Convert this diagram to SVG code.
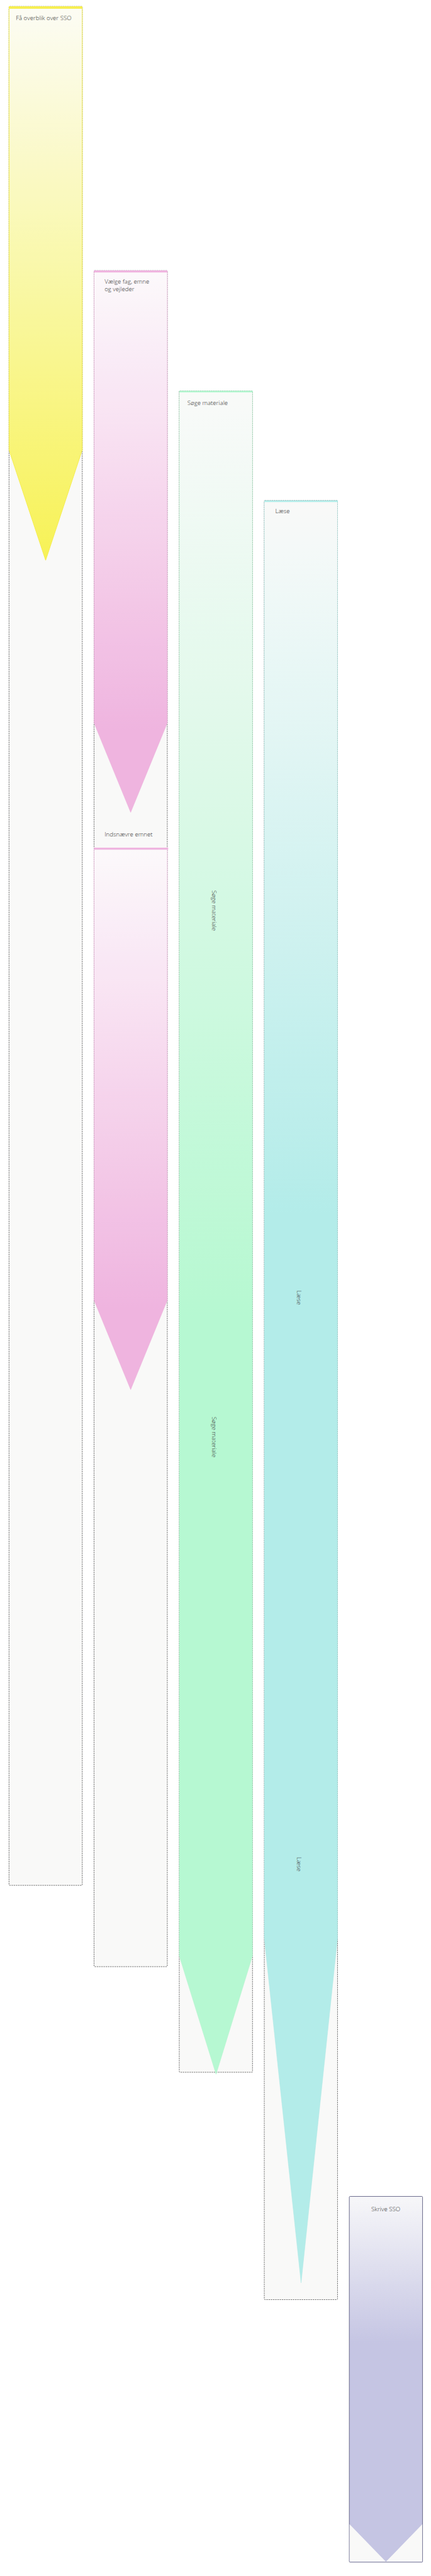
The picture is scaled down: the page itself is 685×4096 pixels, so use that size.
<svg xmlns="http://www.w3.org/2000/svg" width="685" height="4096" viewBox="0 0 685 4096">
<style>
.lane{fill:#f9f9f8;stroke:#3a3a3a;stroke-width:1.2;stroke-dasharray:4 2}
.lbl{font-family:"Open Sans","Liberation Sans",sans-serif;font-weight:300;font-size:16.5px;fill:#333}
</style>
<defs>
<linearGradient id="gy" x1="0" y1="0" x2="0" y2="1"><stop offset="0" stop-color="#fdfdf4"/><stop offset="1" stop-color="#f7f24e"/></linearGradient>
<linearGradient id="gp" x1="0" y1="0" x2="0" y2="1"><stop offset="0" stop-color="#fdf9fc"/><stop offset="0.85" stop-color="#efb1de"/></linearGradient>
<linearGradient id="gg" x1="0" y1="0" x2="0" y2="1"><stop offset="0" stop-color="#f9fbf9"/><stop offset="0.55" stop-color="#b3f8d0"/></linearGradient>
<linearGradient id="gc" x1="0" y1="0" x2="0" y2="1"><stop offset="0" stop-color="#f9faf9"/><stop offset="0.4" stop-color="#b0ece9"/></linearGradient>
<linearGradient id="gv" x1="0" y1="0" x2="0" y2="1"><stop offset="0" stop-color="#f7f7f9"/><stop offset="0.4" stop-color="#c5c5e3"/></linearGradient>
</defs>
<rect width="685" height="4096" fill="#fff"/>
<g transform="scale(0.585)">
<g id="lane-yellow">
<rect class="lane" x="24.5" y="17.5" width="199" height="5107" rx="2"/>
<polygon points="24.5,23 223.5,23 223.5,1223 124,1523 24.5,1223" fill="url(#gy)" stroke="#f3ec3c" stroke-width="1.5" opacity="0.95"/>
<rect x="24" y="17" width="200" height="6" fill="#f7ef52"/>
<text class="lbl" x="43" y="54">Få overblik over SSO</text>
</g>
<g id="lane-pink">
<rect class="lane" x="255.5" y="735.5" width="199" height="4610" rx="2"/>
<polygon points="255.5,740 454.5,740 454.5,1965 355,2208 255.5,1965" fill="url(#gp)" stroke="#ecaad9" stroke-width="1" opacity="0.95"/>
<rect x="255" y="735" width="200" height="5" fill="#efb3df"/>
<text class="lbl" x="284" y="771">Vælge fag, emne</text>
<text class="lbl" x="284" y="791">og vejleder</text>
<text class="lbl" x="284" y="2274">Indsnævre emnet</text>
<polygon points="255.5,2309 454.5,2309 454.5,3534 355,3777 255.5,3534" fill="url(#gp)" stroke="#ecaad9" stroke-width="1" opacity="0.95"/>
<rect x="255" y="2304" width="202" height="5" fill="#efb3df"/>
</g>
<g id="lane-green">
<rect class="lane" x="487" y="1062.5" width="199" height="4570" rx="2"/>
<polygon points="487,1066 686,1066 686,5316 587,5638 487,5316" fill="url(#gg)" stroke="#b0f4cc" stroke-width="1" opacity="0.95"/>
<rect x="487" y="1062" width="200" height="4" fill="#b3f8d0"/>
<text class="lbl" x="509" y="1100">Søge materiale</text>
<text class="lbl" transform="translate(576,2475) rotate(90)" text-anchor="middle">Søge materiale</text>
<text class="lbl" transform="translate(576,3906) rotate(90)" text-anchor="middle">Søge materiale</text>
</g>
<g id="lane-cyan">
<rect class="lane" x="718" y="1360.5" width="199" height="4890" rx="2"/>
<polygon points="718,1364 917,1364 917,5268 818,6205 718,5268" fill="url(#gc)" stroke="#acE8e5" stroke-width="1" opacity="0.95"/>
<rect x="718" y="1360" width="200" height="4" fill="#b0ece9"/>
<text class="lbl" x="748" y="1395">Læse</text>
<text class="lbl" transform="translate(807,3527) rotate(90)" text-anchor="middle">Læse</text>
<text class="lbl" transform="translate(807,5067) rotate(90)" text-anchor="middle">Læse</text>
</g>
<g id="lane-purple">
<rect x="949" y="5970" width="199" height="994" rx="2" fill="url(#gv)" stroke="#55557a" stroke-width="1.5"/>
<polygon points="949.8,6861 1048.5,6963 1147.2,6861 1147.2,6963 949.8,6963" fill="#f9f9f8"/>
<text class="lbl" x="1048" y="6010" text-anchor="middle">Skrive SSO</text>
</g>
</g>
</svg>
